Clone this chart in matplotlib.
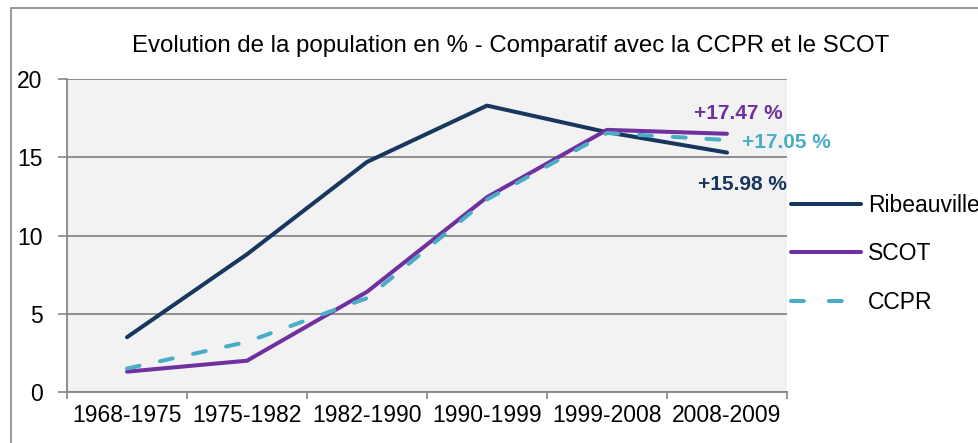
import matplotlib
matplotlib.use("Agg")
import matplotlib.pyplot as plt
from matplotlib.patches import Rectangle
from matplotlib.lines import Line2D

plt.rcParams['font.family'] = ['Liberation Sans', 'DejaVu Sans']

categories = ["1968-1975", "1975-1982", "1982-1990", "1990-1999", "1999-2008", "2008-2009"]
ribeauville = [3.5, 8.8, 14.7, 18.3, 16.6, 15.3]
scot = [1.3, 2.0, 6.4, 12.45, 16.75, 16.5]
ccpr = [1.5, 3.2, 6.0, 12.3, 16.55, 16.1]
end_labels = {"Ribeauville": "+15.98 %", "SCOT": "+17.47 %", "CCPR": "+17.05 %"}
yticks = [0, 5, 10, 15, 20]

c_rib = "#17375E"
c_scot = "#7030A0"
c_ccpr = "#4BACC6"
grey = "#868686"
fs = 16.5

W, H = 979, 443
fig = plt.figure(figsize=(W / 100, H / 100), dpi=100)
ax = fig.add_axes([67 / W, 1 - 392 / H, (787 - 67) / W, (392 - 79) / H])
ax.set_facecolor("#F2F2F2")

x = list(range(len(categories)))
l1, = ax.plot(x, ribeauville, color=c_rib, lw=2.9, solid_capstyle='round', solid_joinstyle='round', label="Ribeauville", zorder=3)
l2, = ax.plot(x, scot, color=c_scot, lw=2.9, solid_capstyle='round', solid_joinstyle='round', label="SCOT", zorder=4)
l3, = ax.plot(x, ccpr, color=c_ccpr, lw=2.9, dashes=(3.2, 5.2), dash_capstyle='round', label="CCPR", zorder=5)
l3_leg = Line2D([], [], color=c_ccpr, lw=2.9, dashes=(3.2, 6.2), dash_capstyle='round', label="CCPR")

ax.set_xlim(-0.5, len(categories) - 0.5)
ax.set_ylim(0, 20)
ax.set_yticks(yticks)
ax.set_yticklabels([str(v) for v in yticks])
ax.set_xticks(x)
ax.set_xticklabels(categories)
ax.set_xticks([i - 0.5 for i in range(len(categories) + 1)], minor=True)
ax.tick_params(axis='x', which='major', length=0, pad=9, labelsize=fs, colors='black')
ax.tick_params(axis='x', which='minor', length=5, width=1.2, color=grey, direction='out')
ax.tick_params(axis='y', length=6.5, width=1.2, color=grey, direction='out', pad=11, labelsize=fs)

ax.grid(axis='y', color=grey, lw=1.3)
ax.set_axisbelow(True)
for s in ['top', 'right']:
    ax.spines[s].set_visible(False)
for s in ['left', 'bottom']:
    ax.spines[s].set_color(grey)
    ax.spines[s].set_linewidth(1.3)

last = len(categories) - 1
ax.annotate(end_labels["SCOT"], (last, scot[-1]), xytext=(8, 14.5), textcoords='offset points',
            ha='center', va='center', fontsize=15, fontweight='bold', color=c_scot)
ax.annotate(end_labels["CCPR"], (last, ccpr[-1]), xytext=(43, -2), textcoords='offset points',
            ha='center', va='center', fontsize=15, fontweight='bold', color=c_ccpr, annotation_clip=False)
ax.annotate(end_labels["Ribeauville"], (last, ribeauville[-1]), xytext=(11, -23), textcoords='offset points',
            ha='center', va='center', fontsize=15, fontweight='bold', color=c_rib)

fig.text(511 / W, 1 - 46 / H, "Evolution de la population en % - Comparatif avec la CCPR et le SCOT",
         ha='center', va='center', fontsize=17.3, color='black')

fig.legend(handles=[l1, l2, l3_leg], loc='center left', bbox_to_anchor=(791 / W, 1 - 254 / H),
           frameon=False, fontsize=fs, handlelength=3.05, handletextpad=0.3, labelspacing=1.12,
           borderpad=0, borderaxespad=0)

fig.add_artist(Rectangle((11 / W, -0.1), 1.2, 1 - 8 / H + 0.1, transform=fig.transFigure,
                         fill=False, edgecolor=grey, lw=1.2, clip_on=False))

fig.savefig("out.png", dpi=100)
